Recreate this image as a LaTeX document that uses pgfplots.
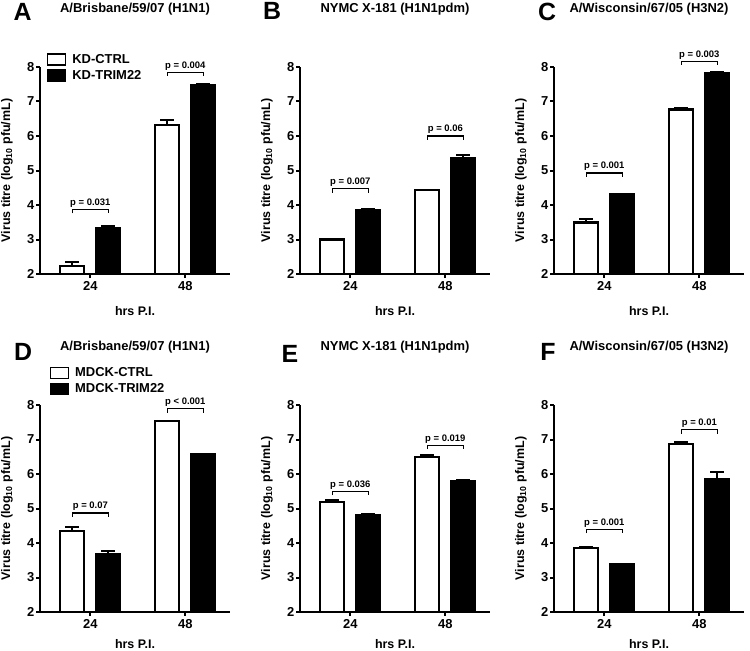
\documentclass[border=0pt]{standalone}
\usepackage{fontspec}
\setmainfont{Liberation Sans}
\usepackage{pgfplots}
\pgfplotsset{compat=1.18}

% p-value bracket: left x, right x, tick bottom, bracket line, text
\newcommand{\pbracket}[5]{%
  \draw[line width=1.2bp, black] (axis cs:#1,#3) -- (axis cs:#1,#4)
    -- node[anchor=south, inner sep=1.5bp, font=\fontsize{9.5}{10}\selectfont\bfseries] {#5}
    (axis cs:#2,#4) -- (axis cs:#2,#3);%
}

\begin{document}
\begin{tikzpicture}
\useasboundingbox (0,0) rectangle (750bp,-651bp);

% === ESTILOS ===
\pgfplotsset{
  panel/.style={
    x=95bp, y=34.5bp,
    xmin=-0.53, xmax=1.47, ymin=2, ymax=8,
    enlargelimits=false,
    clip mode=individual,
    axis lines=left,
    axis line style={-, line width=2bp, black},
    xtick={0,1}, xticklabels={24,48},
    ytick={2,3,4,5,6,7,8},
    tick align=outside,
    major tick length=4bp,
    tick style={line width=2bp, black},
    tick label style={font=\fontsize{13}{14}\selectfont\bfseries},
    yticklabel style={inner sep=1.5bp},
    /pgf/number format/assume math mode=true,
    ybar, bar width=24bp,
    xlabel={hrs P.I.},
    ylabel={Virus titre (log\textsubscript{10} pfu/mL)},
    label style={font=\fontsize{12.5}{14}\selectfont\bfseries},
    xlabel style={at={(axis description cs:0.5,-0.18)}, anchor=center},
    ylabel style={at={(axis description cs:-0.174,0.5)}, anchor=center},
    title style={at={(axis description cs:0.5,1.25)}, anchor=center,
      font=\fontsize{13}{15}\selectfont\bfseries},
    legend image code/.code={\draw[##1, line width=1.5bp] (0bp,-5.5bp) rectangle (18bp,5.5bp);},
    legend style={draw=none, fill=none, inner sep=0pt, anchor=north west,
      font=\fontsize{13}{15}\selectfont\bfseries, row sep=2bp,
      nodes={inner sep=1bp, text height=9.5bp, text depth=2.5bp},
      /tikz/every odd column/.append style={column sep=5bp}},
    legend cell align=left,
  },
  lower/.style={xlabel style={at={(axis description cs:0.5,-0.155)}}},
  ctrl/.style={fill=white, draw=black, line width=2.2bp, bar shift=-18bp,
    error bars/y dir=plus, error bars/y explicit,
    error bars/error mark=|,
    error bars/error bar style={line width=2bp, black},
    error bars/error mark options={line width=2bp, mark size=7bp, black}},
  trim/.style={fill=black, draw=black, line width=2.2bp, bar shift=18bp,
    error bars/y dir=plus, error bars/y explicit,
    error bars/error mark=|,
    error bars/error bar style={line width=2bp, black},
    error bars/error mark options={line width=2bp, mark size=7bp, black}},
}

% === FILA SUPERIOR ===
% A
\begin{axis}[panel, at={(40bp,-274bp)}, anchor=south west,
  title={A/Brisbane/59/07 (H1N1)},
  legend style={at={(axis description cs:0.035,1.07)}}]
\addplot[ctrl] coordinates {(0,2.24) +- (0,0.10) (1,6.31) +- (0,0.16)};
\addlegendentry{KD-CTRL}
\addplot[trim] coordinates {(0,3.32) +- (0,0.08) (1,7.47) +- (0,0.03)};
\addlegendentry{KD-TRIM22}
\pbracket{-0.19}{0.19}{3.76}{3.87}{p = 0.031}
\pbracket{0.81}{1.19}{7.75}{7.85}{p = 0.004}
\end{axis}

% B
\begin{axis}[panel, at={(300bp,-274bp)}, anchor=south west,
  title={NYMC X-181 (H1N1pdm)}]
\addplot[ctrl] coordinates {(0,3.00) +- (0,0.01) (1,4.43) +- (0,0.01)};
\addplot[trim] coordinates {(0,3.86) +- (0,0.03) (1,5.36) +- (0,0.10)};
\pbracket{-0.19}{0.19}{4.36}{4.47}{p = 0.007}
\pbracket{0.81}{1.19}{5.89}{6.00}{p = 0.06}
\end{axis}

% C
\begin{axis}[panel, at={(554bp,-274bp)}, anchor=south west,
  title={A/Wisconsin/67/05 (H3N2)}]
\addplot[ctrl] coordinates {(0,3.49) +- (0,0.11) (1,6.77) +- (0,0.04)};
\addplot[trim] coordinates {(0,4.31) +- (0,0.01) (1,7.82) +- (0,0.03)};
\pbracket{-0.19}{0.19}{4.82}{4.93}{p = 0.001}
\pbracket{0.81}{1.19}{8.07}{8.17}{p = 0.003}
\end{axis}

% === FILA INFERIOR ===
% D
\begin{axis}[panel, lower, at={(40bp,-612bp)}, anchor=south west,
  title={A/Brisbane/59/07 (H1N1)},
  legend style={at={(axis description cs:0.05,1.19)}}]
\addplot[ctrl] coordinates {(0,4.35) +- (0,0.11) (1,7.54) +- (0,0.01)};
\addlegendentry{MDCK-CTRL}
\addplot[trim] coordinates {(0,3.67) +- (0,0.09) (1,6.58) +- (0,0.01)};
\addlegendentry{MDCK-TRIM22}
\pbracket{-0.19}{0.19}{4.76}{4.87}{p = 0.07}
\pbracket{0.81}{1.19}{7.78}{7.90}{p < 0.001}
\end{axis}

% E
\begin{axis}[panel, lower, at={(300bp,-612bp)}, anchor=south west,
  title={NYMC X-181 (H1N1pdm)}]
\addplot[ctrl] coordinates {(0,5.19) +- (0,0.06) (1,6.49) +- (0,0.06)};
\addplot[trim] coordinates {(0,4.81) +- (0,0.04) (1,5.78) +- (0,0.05)};
\pbracket{-0.19}{0.19}{5.39}{5.49}{p = 0.036}
\pbracket{0.81}{1.19}{6.72}{6.83}{p = 0.019}
\end{axis}

% F
\begin{axis}[panel, lower, at={(554bp,-612bp)}, anchor=south west,
  title={A/Wisconsin/67/05 (H3N2)}]
\addplot[ctrl] coordinates {(0,3.86) +- (0,0.02) (1,6.86) +- (0,0.06)};
\addplot[trim] coordinates {(0,3.39) +- (0,0.01) (1,5.85) +- (0,0.20)};
\pbracket{-0.19}{0.19}{4.29}{4.40}{p = 0.001}
\pbracket{0.81}{1.19}{7.17}{7.29}{p = 0.01}
\end{axis}

% === LETRAS DE PANEL ===
\begin{scope}[every node/.style={font=\fontsize{25}{28}\selectfont\bfseries, inner sep=0pt}]
\node at (22.5bp,-12bp) {A};
\node at (272bp,-11bp) {B};
\node at (547bp,-12bp) {C};
\node at (23bp,-352bp) {D};
\node at (290bp,-354bp) {E};
\node at (548bp,-352bp) {F};
\end{scope}

\end{tikzpicture}
\end{document}
